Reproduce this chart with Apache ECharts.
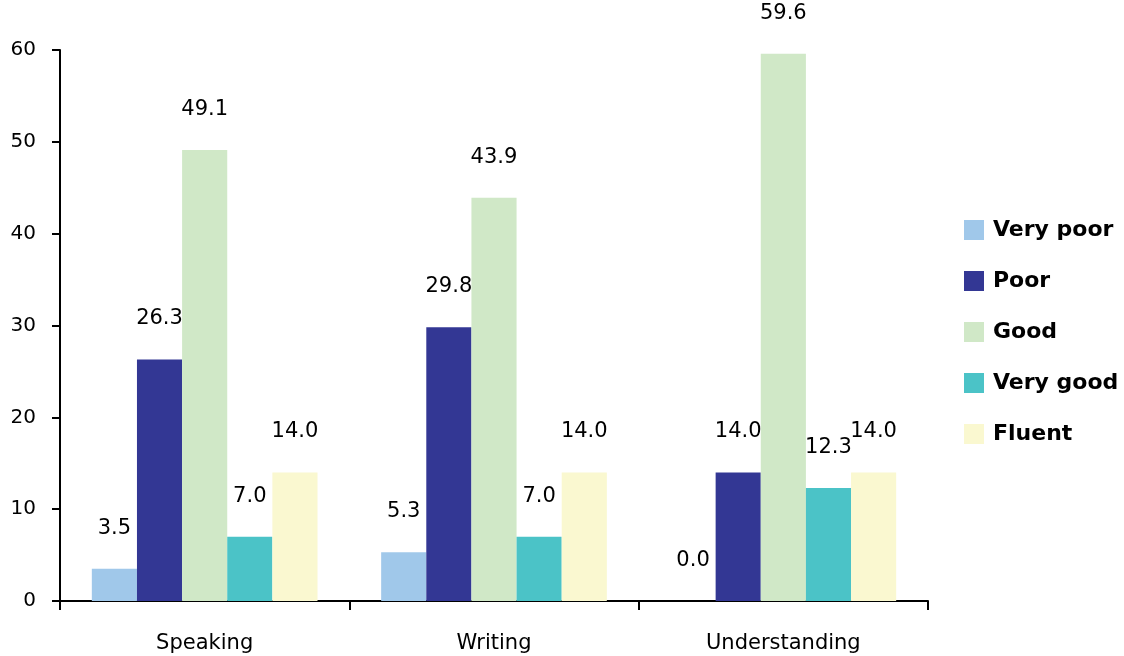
<!DOCTYPE html>
<html><head><meta charset="utf-8">
<script src="https://cdn.jsdelivr.net/npm/echarts@6/dist/echarts.min.js"></script>
<style>html,body{margin:0;padding:0;background:#fff}#c{width:1124px;height:656px}</style>
</head><body><div id="c"></div>
<script>
const categories = ['Speaking', 'Writing', 'Understanding'];
const seriesNames = ['Very poor', 'Poor', 'Good', 'Very good', 'Fluent'];
const veryPoor = [3.5, 5.3, 0.0];
const poor = [26.3, 29.8, 14.0];
const good = [49.1, 43.9, 59.6];
const veryGood = [7.0, 7.0, 12.3];
const fluent = [14.0, 14.0, 14.0];
const colors = ['#A0C8EA', '#333794', '#D0E8C7', '#4BC3C7', '#FAF8D0'];
const values = [veryPoor, poor, good, veryGood, fluent];

const FONT = 'DejaVu Sans';
const chart = echarts.init(document.getElementById('c'));
chart.setOption({
  animation: false,
  textStyle: { fontFamily: FONT },
  grid: { left: 60, right: 196, top: 50, bottom: 55, containLabel: false },
  legend: {
    orient: 'vertical', left: 959, top: 214, itemWidth: 20, itemHeight: 20, itemGap: 29,
    icon: 'rect',
    textStyle: { fontFamily: FONT, fontSize: 22, fontWeight: 'bold', color: '#000', padding: [0, 0, 0, 4] },
    data: seriesNames
  },
  xAxis: {
    type: 'category', data: categories,
    axisLine: { lineStyle: { color: '#000', width: 2 } },
    axisTick: { show: true, length: 9, lineStyle: { color: '#000', width: 2 } },
    axisLabel: { fontFamily: FONT, fontSize: 21, color: '#000', margin: 32 }
  },
  yAxis: {
    type: 'value', min: 0, max: 60, interval: 10,
    axisLine: { show: true, lineStyle: { color: '#000', width: 2 } },
    axisTick: { show: true, length: 8, lineStyle: { color: '#000', width: 2 } },
    splitLine: { show: false },
    axisLabel: { fontFamily: FONT, fontSize: 20, color: '#000', margin: 24, padding: [0, 0, 10, 0] }
  },
  series: seriesNames.map((n, i) => ({
    name: n, type: 'bar', data: values[i],
    barGap: 0, barCategoryGap: '22%',
    itemStyle: { color: colors[i] },
    label: {
      show: true, position: 'top', distance: 30,
      fontFamily: FONT, fontSize: 21, color: '#000',
      formatter: p => p.value.toFixed(1)
    }
  }))
});
</script></body></html>
